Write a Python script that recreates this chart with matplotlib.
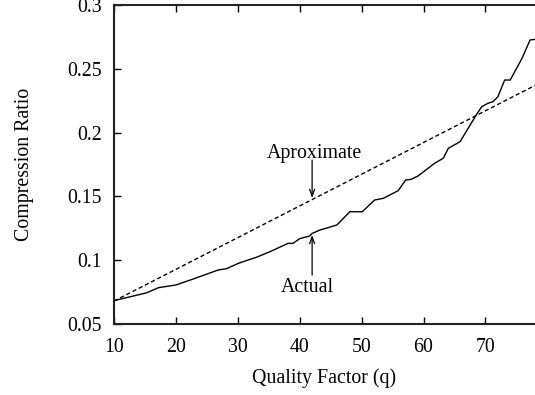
import matplotlib
matplotlib.use("Agg")
import matplotlib.pyplot as plt

plt.rcParams['font.family'] = ['Liberation Serif', 'DejaVu Serif']

# Aproximate line (linear fit)
approx_q = [10, 78]
approx_ratio = [0.068, 0.237]

# Actual compression ratio
actual_q = [10, 15.3, 17.2, 20, 22.8, 26.8, 28.2, 30.1, 33.0, 35.2, 38.1, 38.9, 40.0,
            41.6, 42.0, 43.3, 46.0, 48.1, 50.1, 52.1, 53.5, 55.9, 57.1, 58.0, 59.1,
            61.8, 63.2, 64.0, 65.9, 68.5, 69.4, 70.4, 71.2, 72.0, 73.1, 74.0, 75.9,
            77.2, 78.0]
actual_ratio = [0.0683, 0.0745, 0.0785, 0.0806, 0.0853, 0.0923, 0.0934, 0.0976, 0.1023,
                0.1067, 0.1132, 0.1132, 0.1169, 0.119, 0.121, 0.1237, 0.1276, 0.138,
                0.138, 0.1472, 0.1485, 0.1545, 0.1628, 0.1634, 0.166, 0.176, 0.18,
                0.1877, 0.1929, 0.2138, 0.2203, 0.223, 0.2242, 0.2281, 0.2412, 0.2412,
                0.2582, 0.2726, 0.2731]

xticks = [10, 20, 30, 40, 50, 60, 70]
yticks = [0.05, 0.1, 0.15, 0.2, 0.25, 0.3]
ytick_labels = ['0.05', '0.1', '0.15', '0.2', '0.25', '0.3']

fig = plt.figure(figsize=(5.35, 3.95), dpi=100)
ax = fig.add_axes([0.2131, 0.1797, 0.7869, 0.8076])

ax.plot(actual_q, actual_ratio, color='black', lw=1.0)
ax.plot(approx_q, approx_ratio, color='black', lw=1.0, dashes=(3, 2))

ax.set_xlim(10, 78)
ax.set_ylim(0.05, 0.3)
ax.set_xticks(xticks)
ax.set_yticks(yticks)
ax.set_yticklabels(ytick_labels)
ax.tick_params(direction='in', length=5, width=1, labelsize=14.3, top=True, right=False)
ax.tick_params(axis='x', labeltop=False, pad=10)
ax.tick_params(axis='y', pad=9)
ax.spines['right'].set_visible(False)
for s in ['left', 'bottom', 'top']:
    ax.spines[s].set_linewidth(1.5)
    ax.spines[s].set_color('#222222')

ax.set_xlabel('Quality Factor (q)', fontsize=14.3, labelpad=8)
ax.set_ylabel('Compression Ratio', fontsize=14.3, labelpad=24)

arrow = dict(arrowstyle='->,head_length=0.5,head_width=0.18', color='black', lw=0.9,
             shrinkA=0, shrinkB=0)
ax.annotate('', xy=(42, 0.1487), xytext=(42, 0.1785), arrowprops=arrow)
ax.text(42.4, 0.1838, 'Aproximate', ha='center', va='center', fontsize=14.3)
ax.annotate('', xy=(42, 0.1198), xytext=(42, 0.0884), arrowprops=arrow)
ax.text(41.3, 0.079, 'Actual', ha='center', va='center', fontsize=14.3)

fig.savefig('out.png', dpi=100)
